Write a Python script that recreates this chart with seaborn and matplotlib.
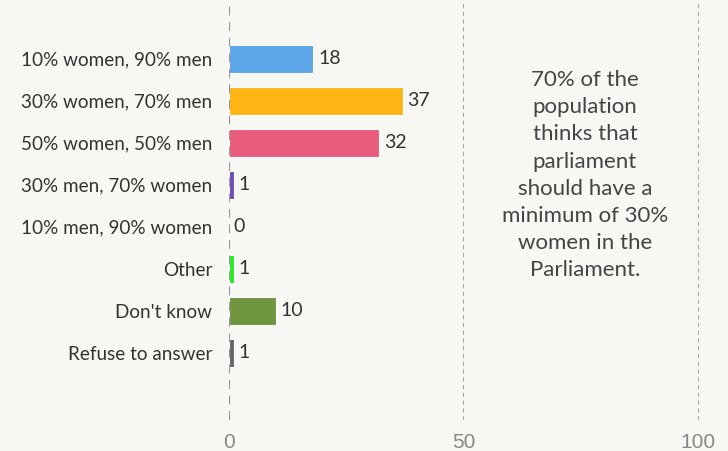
import numpy as np
import pandas as pd
import matplotlib
matplotlib.use("Agg")
import matplotlib.pyplot as plt
import seaborn as sns

# data
categories = ["10% women, 90% men", "30% women, 70% men", "50% women, 50% men",
              "30% men, 70% women", "10% men, 90% women", "Other",
              "Don't know", "Refuse to answer"]
values = [18, 37, 32, 1, 0, 1, 10, 1]
colors = ["#5ca6e8", "#fdb515", "#e95b7a", "#6a50b8", "#999999",
          "#22ee22", "#6f963e", "#666666"]
note = ("70% of the\npopulation\nthinks that\nparliament\nshould have a\n"
        "minimum of 30%\nwomen in the\nParliament.")

df = pd.DataFrame({"cat": categories, "val": values})

bg = "#f7f7f3"
sns.set_style("white")
plt.rcParams["font.family"] = ["Lato", "DejaVu Sans"]

fig = plt.figure(figsize=(7.28, 4.51), dpi=100, facecolor=bg)
ax = fig.add_axes([229 / 728, 1 - 420 / 451, 1 - 229 / 728, 420 / 451])
ax.set_facecolor(bg)

sns.barplot(data=df, x="val", y="cat", hue="cat", palette=colors, legend=False,
            saturation=1, width=0.67, edgecolor="#ffffff", linewidth=0.8,
            ax=ax, zorder=3)

ax.set_xlim(0, 106.4)
ax.set_ylim(8.6, -1.4)

# dashed gridlines
ax.axvline(0, color="#999999", lw=1.6, ls=(0, (4, 3)), zorder=4)
for xv in [50, 100]:
    ax.axvline(xv, color="#aaaaaa", lw=0.8, ls=(0, (4, 3)), zorder=1)

for s in ax.spines.values():
    s.set_visible(False)

for i, v in enumerate(values):
    ax.text(v + 1.0, i, str(v), va="center", ha="left", fontsize=14, color="#333333")

ax.set_yticks(range(len(categories)))
ax.set_yticklabels(categories, fontsize=13.6, color="#333333")
ax.tick_params(axis="y", length=0, pad=12)
ax.set_xticks([])
ax.set_xlabel("")
ax.set_ylabel("")

for xv in [0, 50, 100]:
    ax.text(xv, 8.92, str(xv), ha="center", va="top", fontsize=15,
            color="#888888", family="Liberation Sans", clip_on=False)

ax.text(75.9, 2.77, note, ha="center", va="center", fontsize=16, color="#444444",
        linespacing=1.45)

fig.savefig("out.png", dpi=100, facecolor=bg)
